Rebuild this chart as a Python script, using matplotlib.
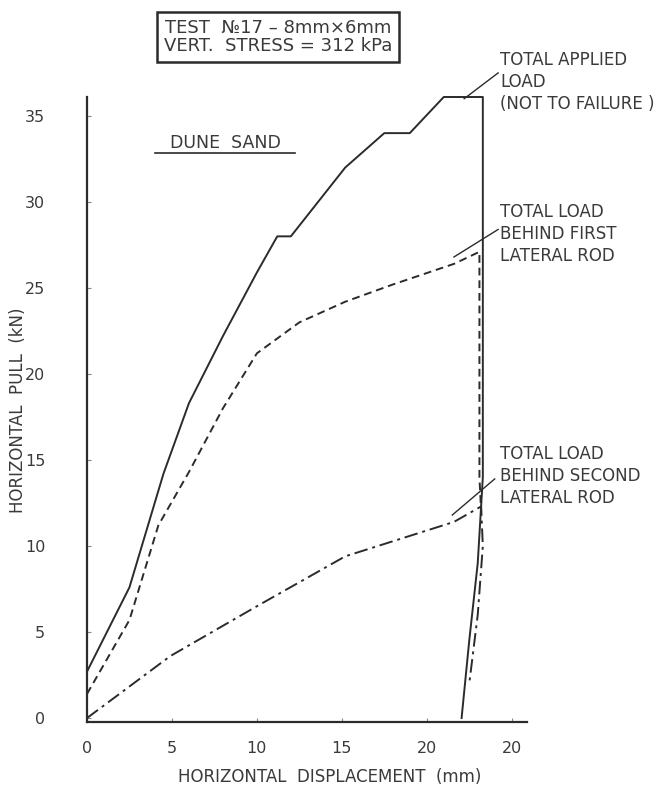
import matplotlib.pyplot as plt

# -------------------------------
# Data
# -------------------------------
applied_x = [0, 2.5, 4.5, 6.0, 8.0, 10.0, 11.2, 12.0, 15.2, 17.5, 19.0, 21.0, 23.3, 23.3, 23.0, 22.5, 22.05]
applied_y = [2.7, 7.6, 14.2, 18.3, 22.2, 25.9, 28.0, 28.0, 32.0, 34.0, 34.0, 36.1, 36.1, 14.0, 9.0, 4.5, 0.0]

first_x = [0, 2.5, 4.2, 6.0, 8.0, 10.0, 12.5, 15.2, 18.0, 21.6, 23.1, 23.1, 23.2]
first_y = [1.4, 5.7, 11.2, 14.3, 18.0, 21.2, 23.0, 24.2, 25.2, 26.4, 27.1, 14.0, 12.0]

second_x = [0, 4.9, 10.0, 15.2, 21.6, 23.2, 23.3, 23.0, 22.5]
second_y = [0, 3.6, 6.5, 9.4, 11.4, 12.3, 10.0, 6.0, 2.0]

xticks = [0, 5, 10, 15, 20, 25]
xtick_labels = ["0", "5", "10", "15", "20", "20"]
yticks = [0, 5, 10, 15, 20, 25, 30, 35]

INK = "#2b2b2b"
TXT = "#3a3a3a"
W, H = 661, 798

fig = plt.figure(figsize=(W / 100, H / 100), dpi=100)
ax = fig.add_axes([87 / W, 1 - 722 / H, 440 / W, (722 - 97) / H])

ax.plot(applied_x, applied_y, color=INK, lw=1.4, ls="-", clip_on=False)
ax.plot(first_x, first_y, color=INK, lw=1.4, ls=(0, (4, 2.5)), clip_on=False)
ax.plot(second_x, second_y, color=INK, lw=1.4, ls=(0, (7, 2.5, 1.5, 2.5)), clip_on=False)

ax.set_xlim(0, 25.9)
ax.set_ylim(-0.23, 36.1)

for s in ["top", "right"]:
    ax.spines[s].set_visible(False)
for s in ["left", "bottom"]:
    ax.spines[s].set_linewidth(1.6)
    ax.spines[s].set_color(INK)

ax.set_xticks(xticks)
ax.set_xticklabels(xtick_labels)
ax.set_yticks(yticks)
ax.tick_params(axis="both", direction="in", length=3, width=0.8, color="#888888",
               labelsize=11.5, labelcolor=TXT)
ax.tick_params(axis="y", pad=30)
ax.tick_params(axis="x", pad=14)

# leader lines for the curve notes
leaders = [((22.2, 36.0), (24.2, 37.5)),
           ((21.6, 26.8), (24.2, 28.4)),
           ((21.5, 11.8), (24.0, 13.9))]
for (x0, y0), (x1, y1) in leaders:
    ax.plot([x0, x1], [y0, y1], color=INK, lw=1.0, clip_on=False)

fs = 12
fig.text(500 / W, 1 - 51 / H, "TOTAL APPLIED\nLOAD\n(NOT TO FAILURE )", ha="left", va="top",
         fontsize=fs, color=TXT, linespacing=1.3)
fig.text(500 / W, 1 - 203 / H, "TOTAL LOAD\nBEHIND FIRST\nLATERAL ROD", ha="left", va="top",
         fontsize=fs, color=TXT, linespacing=1.3)
fig.text(500 / W, 1 - 445 / H, "TOTAL LOAD\nBEHIND SECOND\nLATERAL ROD", ha="left", va="top",
         fontsize=fs, color=TXT, linespacing=1.3)

# dune sand label with underline
fig.text(225 / W, 1 - 148 / H, "DUNE  SAND", ha="center", va="baseline", fontsize=12.5, color=TXT)
fig.add_artist(plt.Line2D([155 / W, 295 / W], [1 - 153 / H, 1 - 153 / H], color=INK, lw=1.2))

# test box
fig.text(278 / W, 1 - 37 / H, "TEST  \u211617 \u2013 8mm\u00d76mm\nVERT.  STRESS = 312 kPa",
         ha="center", va="center", fontsize=13, color=TXT, linespacing=1.05,
         bbox=dict(boxstyle="square,pad=0.35", fc="white", ec=INK, lw=1.8))

fig.text(330 / W, 1 - 777 / H, "HORIZONTAL  DISPLACEMENT  (mm)", ha="center", va="center",
         fontsize=12, color=TXT)
fig.text(18 / W, 1 - 410 / H, "HORIZONTAL  PULL  (kN)", ha="center", va="center",
         rotation=90, fontsize=12, color=TXT)

plt.savefig("out.png", dpi=100)
plt.close()
